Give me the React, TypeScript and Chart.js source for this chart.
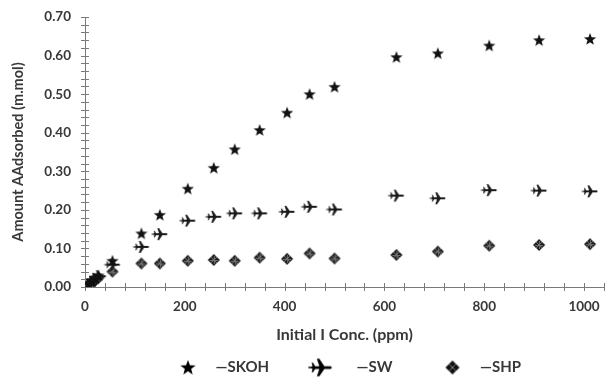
import { useEffect, useRef } from 'react';
import { Chart, registerables } from 'chart.js';

Chart.register(...registerables);

// ---- data ----
const concentrations = [8, 14, 20, 27, 55, 113, 150, 206, 258, 300, 350, 405, 450, 500, 624, 707, 810, 910, 1012];
const skohValues = [0.008, 0.015, 0.022, 0.03, 0.068, 0.139, 0.187, 0.255, 0.309, 0.357, 0.407, 0.452, 0.5, 0.519, 0.596, 0.606, 0.626, 0.64, 0.643];
const swValues = [0.007, 0.013, 0.02, 0.028, 0.058, 0.104, 0.137, 0.172, 0.182, 0.191, 0.191, 0.195, 0.208, 0.201, 0.237, 0.23, 0.251, 0.25, 0.248];
const shpValues = [0.005, 0.01, 0.016, 0.024, 0.04, 0.061, 0.061, 0.068, 0.07, 0.068, 0.076, 0.073, 0.087, 0.074, 0.083, 0.092, 0.107, 0.109, 0.111];
const seriesNames = ['—SKOH', '—SW', '—SHP'];
const xTickLabels = [0, 200, 400, 600, 800, 1000];
const yTickLabels = ['0.00', '0.10', '0.20', '0.30', '0.40', '0.50', '0.60', '0.70'];
const xTitle = 'Initial I Conc. (ppm)';
const yTitle = 'Amount AAdsorbed (m.mol)';

const TEXT = '#383838';
const AXIS = '#7a7a7a';
const FONT = 'Lato, "Open Sans", sans-serif';

function makeCanvas(w: number, h: number, draw: (ctx: CanvasRenderingContext2D) => void) {
  const c = document.createElement('canvas');
  c.width = w;
  c.height = h;
  const ctx = c.getContext('2d')!;
  draw(ctx);
  return c;
}

function drawStar(ctx: CanvasRenderingContext2D, cx: number, cy: number, R: number, r: number, color: string) {
  ctx.beginPath();
  for (let i = 0; i < 10; i++) {
    const a = -Math.PI / 2 + (i * Math.PI) / 5;
    const rad = i % 2 === 0 ? R : r;
    const x = cx + rad * Math.cos(a);
    const y = cy + rad * Math.sin(a);
    if (i === 0) ctx.moveTo(x, y);
    else ctx.lineTo(x, y);
  }
  ctx.closePath();
  ctx.fillStyle = color;
  ctx.fill();
}

function drawPlane(ctx: CanvasRenderingContext2D, cx: number, cy: number, s: number, color: string) {
  const top: [number, number][] = [
    [8, 0], [6.8, -1.1], [1.8, -1.1], [-2.2, -7], [-4.2, -7], [-2.2, -1.1],
    [-5.6, -1.1], [-7.2, -3.8], [-8.4, -3.8], [-7.6, -1.1], [-8.6, -0.8],
  ];
  const pts = [...top, ...top.slice(1).reverse().map(([x, y]) => [x, -y] as [number, number])];
  ctx.beginPath();
  pts.forEach(([x, y], i) => {
    const px = cx + x * s;
    const py = cy + y * s;
    if (i === 0) ctx.moveTo(px, py);
    else ctx.lineTo(px, py);
  });
  ctx.closePath();
  ctx.fillStyle = color;
  ctx.fill();
  ctx.strokeStyle = color;
  ctx.lineWidth = 1.2 * s;
  ctx.beginPath();
  ctx.moveTo(cx - 11 * s, cy);
  ctx.lineTo(cx - 7 * s, cy);
  ctx.stroke();
}

function drawShp(ctx: CanvasRenderingContext2D, cx: number, cy: number, a: number, dark: string, light: string | null) {
  const offs: [number, number][] = [[0, -1], [1, 0], [0, 1], [-1, 0]];
  ctx.fillStyle = dark;
  offs.forEach(([dx, dy]) => {
    const x = cx + dx * a;
    const y = cy + dy * a;
    const h = a * 0.95;
    ctx.beginPath();
    ctx.moveTo(x, y - h);
    ctx.lineTo(x + h, y);
    ctx.lineTo(x, y + h);
    ctx.lineTo(x - h, y);
    ctx.closePath();
    ctx.fill();
  });
  if (light) {
    ctx.strokeStyle = light;
    ctx.lineWidth = 1;
    ctx.beginPath();
    ctx.moveTo(cx - a * 1.3, cy + 0.5);
    ctx.lineTo(cx + a * 1.3, cy + 0.5);
    ctx.moveTo(cx + 0.5, cy - a * 1.3);
    ctx.lineTo(cx + 0.5, cy + a * 1.3);
    ctx.stroke();
  }
}

const tickMarks = {
  id: 'tickMarks',
  beforeDatasetsDraw(chart: any) {
    const { ctx, chartArea } = chart;
    const xs = chart.scales.x;
    const ys = chart.scales.y;
    ctx.save();
    ctx.strokeStyle = AXIS;
    ctx.lineWidth = 1;
    ctx.beginPath();
    xs.ticks.forEach((t: any) => {
      const px = Math.round(xs.getPixelForValue(t.value)) + 0.5;
      ctx.moveTo(px, chartArea.bottom - 4);
      ctx.lineTo(px, chartArea.bottom + 4);
    });
    ys.ticks.forEach((t: any) => {
      const py = Math.round(ys.getPixelForValue(t.value)) + 0.5;
      ctx.moveTo(chartArea.left - 4, py);
      ctx.lineTo(chartArea.left + 4, py);
    });
    ctx.stroke();
    ctx.restore();
  },
};

export default function App() {
  const ref = useRef<HTMLCanvasElement | null>(null);

  useEffect(() => {
    document.body.style.margin = '0';
    const starPt = makeCanvas(16, 16, (c) => drawStar(c, 8, 8.5, 6.4, 2.7, '#111'));
    const planePt = makeCanvas(22, 16, (c) => drawPlane(c, 12, 8, 0.85, '#1a1a1a'));
    const shpPt = makeCanvas(16, 16, (c) => drawShp(c, 8, 8, 3.1, '#1c1c1c', '#707070'));
    const starLg = makeCanvas(18, 18, (c) => drawStar(c, 9, 9.5, 8, 3.3, '#000'));
    const planeLg = makeCanvas(44, 22, (c) => drawPlane(c, 15, 11, 1.25, '#000'));
    const shpLg = makeCanvas(18, 18, (c) => drawShp(c, 9, 9, 3.6, '#111', null));
    const legendIcons = [starLg, planeLg, shpLg];

    const mk = (label: string, values: number[], style: HTMLCanvasElement) => ({
      label,
      data: concentrations.map((x, i) => ({ x, y: values[i] })),
      pointStyle: style,
      showLine: false,
      borderColor: '#000',
      backgroundColor: '#000',
    });

    const chart = new Chart(ref.current!, {
      type: 'scatter',
      data: {
        datasets: [
          mk(seriesNames[0], skohValues, starPt),
          mk(seriesNames[1], swValues, planePt),
          mk(seriesNames[2], shpValues, shpPt),
        ],
      },
      options: {
        animation: false,
        responsive: false,
        devicePixelRatio: 1,
        layout: { padding: { top: 17, right: 3, left: 0, bottom: 0 } },
        scales: {
          x: {
            type: 'linear',
            min: 0,
            max: 1040,
            afterFit: (s: any) => { s.height = 33; },
            grid: { display: false, drawTicks: false, tickLength: 0 },
            border: { display: true, color: AXIS, width: 1 },
            ticks: {
              stepSize: 40,
              autoSkip: false,
              maxRotation: 0,
              padding: 12,
              color: TEXT,
              font: { family: FONT, size: 13.5, weight: 'bold' },
              callback: (v: any) => (xTickLabels.includes(Number(v)) ? String(v) : ''),
            },
            title: {
              display: true,
              text: xTitle,
              color: TEXT,
              font: { family: FONT, size: 16, weight: 'bold' },
              padding: { top: 0, bottom: -24 },
            },
          },
          y: {
            type: 'linear',
            min: 0,
            max: 0.7,
            afterFit: (s: any) => { s.width = 85; s.paddingTop = 0; s.paddingBottom = 0; },
            grid: { display: false, drawTicks: false, tickLength: 0 },
            border: { display: true, color: AXIS, width: 1 },
            ticks: {
              stepSize: 0.02,
              autoSkip: false,
              padding: 14,
              color: TEXT,
              font: { family: FONT, size: 13.5, weight: 'bold' },
              callback: (v: any) => {
                const r = Math.round(Number(v) * 100);
                return r % 10 === 0 ? yTickLabels[r / 10] : '';
              },
            },
            title: {
              display: true,
              text: yTitle,
              color: TEXT,
              font: { family: FONT, size: 14.5, weight: 'bold' },
              padding: { top: 10, bottom: 0 },
            },
          },
        },
        plugins: {
          legend: {
            position: 'bottom',
            fullSize: false,
            labels: {
              usePointStyle: true,
              pointStyleWidth: 40,
              padding: 40,
              color: TEXT,
              font: { family: FONT, size: 15, weight: 'bold' },
              generateLabels: (ch: any) =>
                ch.data.datasets.map((d: any, i: number) => ({
                  text: d.label,
                  pointStyle: legendIcons[i],
                  fillStyle: '#000',
                  strokeStyle: '#000',
                  lineWidth: 0,
                  hidden: false,
                  datasetIndex: i,
                  fontColor: TEXT,
                })),
            },
          },
          tooltip: { enabled: false },
        },
      },
      plugins: [tickMarks],
    });
    return () => chart.destroy();
  }, []);

  return (
    <div style={{ position: 'fixed', left: 0, top: 0, width: 616, height: 380, overflow: 'hidden', background: '#fff' }}>
      <canvas ref={ref} width={616} height={385} style={{ display: 'block' }} />
    </div>
  );
}
